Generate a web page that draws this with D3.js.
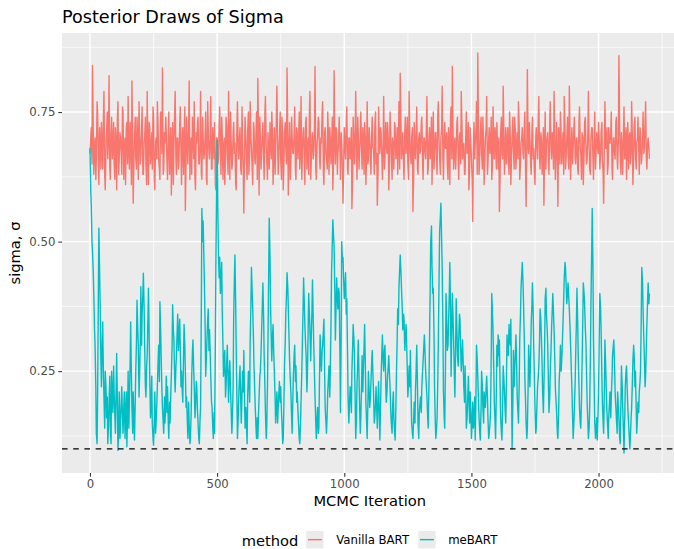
<!DOCTYPE html>
<html><head><meta charset="utf-8">
<script src="https://cdn.jsdelivr.net/npm/d3@7"></script>
<style>body{margin:0;background:#fff}svg{display:block;font-family:"DejaVu Sans",sans-serif}</style>
</head><body><svg id="c" width="674" height="549"></svg>
<script>
// ---- data: posterior sigma draws ----
// "A" arrays: draws at iterations 0,5,10,...,2200 ; "B" arrays: draws at iterations 3,8,13,...,2198
const stepA = 5, offsetB = 3;
const methods = ["Vanilla BART", "meBART"];
const methodColors = ["#F8766D", "#00BFC4"];
const vanillaA = [
0.67,0.72,0.84,0.63,0.70,0.66,0.75,0.61,0.69,0.73,0.64,0.79,0.60,0.71,0.66,0.82,0.62,0.74,0.68,0.65,
0.72,0.60,0.77,0.66,0.70,0.63,0.75,0.68,0.61,0.73,0.78,0.64,0.69,0.81,0.574,0.70,0.66,0.74,0.62,0.71,
0.67,0.76,0.63,0.70,0.65,0.79,0.61,0.72,0.68,0.64,0.74,0.60,0.70,0.77,0.66,0.62,0.73,0.835,0.64,0.69,
0.71,0.62,0.75,0.67,0.59,0.73,0.68,0.79,0.63,0.70,0.66,0.76,0.61,0.72,0.69,0.56,0.74,0.65,0.81,0.67,
0.63,0.71,0.77,0.60,0.69,0.74,0.65,0.79,0.62,0.70,0.67,0.75,0.61,0.72,0.66,0.78,0.64,0.69,0.73,0.60,
0.70,0.66,0.76,0.63,0.71,0.68,0.61,0.74,0.67,0.79,0.62,0.70,0.65,0.73,0.69,0.60,0.77,0.66,0.72,0.63,
0.69,0.555,0.74,0.66,0.71,0.63,0.77,0.68,0.61,0.72,0.65,0.75,0.815,0.59,0.70,0.67,0.73,0.62,0.78,0.66,
0.71,0.64,0.69,0.75,0.61,0.72,0.67,0.80,0.63,0.70,0.66,0.74,0.60,0.71,0.68,0.835,0.59,0.73,0.65,0.70,
0.67,0.76,0.62,0.71,0.69,0.64,0.78,0.66,0.72,0.61,0.74,0.68,0.63,0.79,0.65,0.71,0.67,0.838,0.62,0.70,
0.73,0.64,0.69,0.77,0.61,0.72,0.66,0.75,0.63,0.70,0.68,0.60,0.83,0.65,0.71,0.67,0.74,0.62,0.69,0.574,
0.72,0.66,0.76,0.63,0.70,0.68,0.564,0.74,0.65,0.79,0.62,0.71,0.67,0.75,0.64,0.69,0.73,0.61,0.77,0.66,
0.70,0.63,0.74,0.68,0.72,0.65,0.57,0.76,0.67,0.71,0.62,0.78,0.66,0.69,0.73,0.60,0.75,0.67,0.70,0.64,
0.72,0.68,0.63,0.77,0.825,0.66,0.71,0.62,0.74,0.69,0.65,0.79,0.67,0.70,0.558,0.73,0.66,0.76,0.63,0.71,
0.68,0.74,0.62,0.70,0.66,0.78,0.64,0.72,0.69,0.61,0.75,0.67,0.71,0.63,0.77,0.66,0.70,0.80,0.62,0.73,
0.68,0.65,0.72,0.61,0.76,0.838,0.64,0.70,0.67,0.74,0.62,0.71,0.79,0.66,0.69,0.63,0.75,0.68,0.60,0.72,
0.66,0.539,0.73,0.69,0.77,0.864,0.63,0.71,0.67,0.74,0.61,0.70,0.78,0.65,0.72,0.68,0.62,0.76,0.66,0.70,
0.73,0.64,0.558,0.71,0.67,0.80,0.63,0.72,0.69,0.66,0.75,0.61,0.70,0.68,0.74,0.64,0.71,0.77,0.62,0.69,
0.72,0.66,0.75,0.568,0.832,0.67,0.70,0.63,0.74,0.68,0.61,0.72,0.66,0.78,0.64,0.70,0.67,0.57,0.75,0.69,
0.71,0.63,0.77,0.66,0.70,0.79,0.62,0.73,0.568,0.69,0.75,0.65,0.71,0.78,0.64,0.70,0.67,0.80,0.62,0.72,
0.68,0.74,0.65,0.70,0.63,0.76,0.67,0.71,0.61,0.73,0.69,0.66,0.79,0.64,0.70,0.72,0.62,0.75,0.67,0.69,
0.73,0.64,0.71,0.66,0.574,0.77,0.68,0.63,0.72,0.69,0.75,0.62,0.70,0.66,0.74,0.64,0.859,0.67,0.71,0.63,
0.76,0.68,0.62,0.73,0.70,0.65,0.77,0.61,0.72,0.67,0.69,0.74,0.63,0.71,0.66,0.75,0.68,0.77,0.64,0.70,
0.66];
const vanillaB = [
0.70,0.65,0.71,0.68,0.62,0.77,0.66,0.72,0.64,0.69,0.74,0.63,0.68,0.75,0.70,0.64,0.71,0.66,0.73,0.62,
0.69,0.74,0.63,0.71,0.67,0.76,0.62,0.70,0.72,0.65,0.68,0.73,0.61,0.69,0.66,0.74,0.64,0.70,0.77,0.65,
0.72,0.63,0.69,0.74,0.61,0.68,0.73,0.65,0.71,0.76,0.62,0.69,0.66,0.72,0.64,0.75,0.67,0.63,0.71,0.74,
0.65,0.70,0.63,0.72,0.68,0.61,0.75,0.66,0.70,0.64,0.73,0.67,0.70,0.63,0.76,0.66,0.68,0.72,0.62,0.70,
0.74,0.66,0.62,0.71,0.73,0.65,0.69,0.63,0.74,0.66,0.71,0.62,0.77,0.67,0.70,0.64,0.72,0.66,0.61,0.70,
0.65,0.72,0.68,0.74,0.62,0.70,0.66,0.72,0.63,0.69,0.75,0.64,0.71,0.67,0.61,0.73,0.68,0.70,0.64,0.76,
0.63,0.68,0.70,0.62,0.75,0.67,0.70,0.64,0.73,0.66,0.71,0.62,0.70,0.74,0.64,0.71,0.66,0.75,0.68,0.62,
0.67,0.73,0.66,0.70,0.68,0.63,0.74,0.69,0.67,0.75,0.62,0.70,0.66,0.73,0.65,0.70,0.68,0.62,0.74,0.67,
0.71,0.64,0.72,0.66,0.75,0.68,0.62,0.71,0.67,0.73,0.64,0.70,0.75,0.62,0.70,0.66,0.72,0.64,0.69,0.74,
0.66,0.70,0.75,0.63,0.71,0.67,0.64,0.70,0.72,0.65,0.74,0.66,0.69,0.72,0.63,0.70,0.68,0.71,0.64,0.66,
0.68,0.73,0.64,0.70,0.66,0.72,0.62,0.69,0.71,0.66,0.74,0.64,0.70,0.68,0.72,0.63,0.70,0.67,0.65,0.72,
0.66,0.71,0.68,0.63,0.75,0.67,0.64,0.70,0.72,0.66,0.69,0.64,0.73,0.67,0.70,0.65,0.71,0.62,0.68,0.73,
0.66,0.72,0.69,0.64,0.73,0.68,0.65,0.71,0.67,0.74,0.62,0.70,0.65,0.72,0.63,0.69,0.71,0.64,0.70,0.67,
0.73,0.65,0.70,0.67,0.72,0.63,0.70,0.66,0.74,0.68,0.64,0.71,0.66,0.75,0.69,0.63,0.72,0.66,0.70,0.68,
0.71,0.62,0.69,0.74,0.66,0.70,0.68,0.64,0.73,0.66,0.70,0.65,0.72,0.68,0.63,0.71,0.67,0.73,0.64,0.69,
0.62,0.68,0.66,0.72,0.63,0.70,0.67,0.74,0.64,0.69,0.66,0.72,0.63,0.70,0.67,0.74,0.65,0.69,0.72,0.64,
0.68,0.70,0.63,0.74,0.66,0.70,0.68,0.65,0.72,0.63,0.70,0.67,0.74,0.64,0.71,0.68,0.66,0.72,0.65,0.70,
0.67,0.72,0.64,0.70,0.68,0.73,0.65,0.71,0.66,0.63,0.70,0.68,0.74,0.66,0.71,0.63,0.72,0.68,0.64,0.70,
0.66,0.73,0.68,0.71,0.64,0.70,0.67,0.66,0.72,0.65,0.70,0.68,0.63,0.72,0.67,0.74,0.64,0.70,0.68,0.65,
0.72,0.66,0.70,0.64,0.73,0.68,0.62,0.70,0.67,0.74,0.65,0.71,0.68,0.63,0.72,0.66,0.70,0.64,0.71,0.67,
0.69,0.67,0.73,0.63,0.70,0.68,0.72,0.65,0.69,0.71,0.64,0.70,0.67,0.73,0.66,0.70,0.72,0.63,0.68,0.71,
0.66,0.72,0.69,0.64,0.71,0.67,0.70,0.66,0.74,0.64,0.70,0.68,0.72,0.65,0.70,0.67,0.73,0.66,0.69,0.68];
const mebartA = [
0.68,0.57,0.48,0.40,0.30,0.13,0.20,0.526,0.38,0.22,0.345,0.20,0.25,0.16,0.11,0.19,0.14,0.25,0.17,0.21,
0.13,0.284,0.097,0.21,0.15,0.22,0.13,0.21,0.17,0.104,0.25,0.19,0.345,0.18,0.21,0.117,0.25,0.387,0.30,0.24,
0.413,0.36,0.439,0.30,0.20,0.28,0.41,0.24,0.18,0.15,0.107,0.21,0.15,0.22,0.30,0.384,0.28,0.18,0.13,0.15,
0.24,0.22,0.12,0.15,0.24,0.378,0.31,0.21,0.28,0.36,0.32,0.30,0.25,0.19,0.34,0.25,0.20,0.12,0.15,0.12,
0.24,0.31,0.22,0.18,0.22,0.15,0.11,0.18,0.564,0.54,0.42,0.24,0.31,0.37,0.33,0.24,0.18,0.12,0.13,0.45,
0.696,0.48,0.47,0.42,0.37,0.24,0.29,0.22,0.30,0.19,0.27,0.18,0.16,0.35,0.474,0.30,0.12,0.20,0.26,0.15,
0.25,0.29,0.14,0.15,0.20,0.24,0.31,0.45,0.374,0.26,0.18,0.12,0.12,0.20,0.25,0.33,0.42,0.28,0.17,0.14,
0.31,0.545,0.38,0.27,0.34,0.25,0.15,0.21,0.18,0.23,0.22,0.15,0.12,0.26,0.36,0.44,0.37,0.27,0.21,0.13,
0.245,0.30,0.26,0.21,0.15,0.11,0.19,0.30,0.43,0.34,0.28,0.24,0.40,0.33,0.31,0.426,0.30,0.20,0.12,0.18,
0.14,0.32,0.25,0.30,0.35,0.18,0.13,0.21,0.26,0.25,0.44,0.542,0.49,0.31,0.43,0.37,0.40,0.17,0.50,0.47,
0.39,0.44,0.39,0.20,0.18,0.21,0.25,0.34,0.28,0.12,0.22,0.31,0.19,0.16,0.28,0.25,0.34,0.19,0.12,0.25,
0.18,0.23,0.29,0.21,0.16,0.22,0.14,0.23,0.117,0.24,0.32,0.25,0.30,0.19,0.24,0.28,0.22,0.15,0.18,0.16,
0.117,0.24,0.37,0.41,0.474,0.41,0.33,0.35,0.31,0.31,0.20,0.26,0.29,0.15,0.12,0.19,0.21,0.30,0.15,0.17,
0.20,0.22,0.27,0.32,0.25,0.20,0.14,0.30,0.50,0.45,0.41,0.22,0.12,0.16,0.31,0.52,0.574,0.45,0.21,0.14,
0.40,0.29,0.34,0.46,0.24,0.40,0.31,0.20,0.39,0.28,0.31,0.35,0.25,0.31,0.22,0.26,0.14,0.19,0.20,0.21,
0.12,0.19,0.16,0.117,0.30,0.24,0.16,0.117,0.25,0.18,0.21,0.18,0.24,0.16,0.13,0.17,0.40,0.33,0.19,0.12,
0.30,0.32,0.31,0.16,0.117,0.26,0.21,0.15,0.32,0.28,0.31,0.35,0.10,0.29,0.25,0.32,0.20,0.15,0.31,0.41,
0.46,0.38,0.24,0.15,0.14,0.30,0.22,0.34,0.42,0.30,0.18,0.14,0.22,0.26,0.37,0.32,0.21,0.22,0.39,0.36,
0.30,0.17,0.25,0.33,0.40,0.33,0.22,0.17,0.12,0.23,0.30,0.27,0.34,0.43,0.45,0.38,0.42,0.37,0.30,0.22,
0.12,0.18,0.28,0.41,0.28,0.18,0.14,0.26,0.42,0.38,0.31,0.19,0.12,0.18,0.38,0.564,0.31,0.15,0.14,0.117,
0.21,0.40,0.33,0.19,0.13,0.31,0.22,0.15,0.16,0.21,0.20,0.28,0.31,0.21,0.16,0.21,0.16,0.11,0.26,0.18,
0.092,0.22,0.26,0.18,0.13,0.12,0.18,0.27,0.28,0.25,0.13,0.19,0.21,0.25,0.45,0.37,0.28,0.24,0.34,0.42,
0.40];
const mebartB = [
0.60,0.50,0.44,0.33,0.22,0.11,0.40,0.44,0.27,0.30,0.24,0.14,0.22,0.20,0.15,0.24,0.11,0.20,0.26,0.16,
0.22,0.18,0.14,0.12,0.19,0.16,0.18,0.12,0.21,0.17,0.14,0.27,0.24,0.13,0.16,0.19,0.31,0.33,0.20,0.31,
0.30,0.40,0.37,0.22,0.26,0.35,0.31,0.16,0.24,0.12,0.16,0.13,0.19,0.27,0.23,0.33,0.21,0.15,0.20,0.19,
0.17,0.15,0.19,0.21,0.30,0.33,0.24,0.26,0.33,0.29,0.35,0.22,0.21,0.28,0.30,0.18,0.15,0.19,0.11,0.17,
0.29,0.25,0.16,0.23,0.17,0.12,0.16,0.38,0.50,0.47,0.33,0.28,0.35,0.29,0.28,0.19,0.14,0.17,0.30,0.60,
0.55,0.43,0.40,0.46,0.30,0.27,0.20,0.27,0.23,0.25,0.21,0.13,0.22,0.43,0.38,0.19,0.16,0.24,0.19,0.21,
0.21,0.19,0.18,0.11,0.25,0.19,0.38,0.40,0.31,0.21,0.14,0.16,0.17,0.24,0.29,0.38,0.35,0.22,0.12,0.22,
0.45,0.47,0.31,0.32,0.28,0.20,0.18,0.15,0.21,0.19,0.17,0.11,0.20,0.31,0.40,0.41,0.31,0.23,0.16,0.20,
0.28,0.23,0.19,0.17,0.12,0.15,0.25,0.37,0.38,0.30,0.21,0.33,0.36,0.27,0.37,0.35,0.24,0.15,0.16,0.13,
0.25,0.27,0.29,0.33,0.24,0.15,0.17,0.24,0.20,0.35,0.50,0.51,0.40,0.38,0.39,0.41,0.28,0.33,0.46,0.42,
0.41,0.36,0.28,0.15,0.22,0.17,0.30,0.31,0.19,0.16,0.27,0.24,0.13,0.22,0.21,0.30,0.26,0.15,0.19,0.21,
0.20,0.27,0.24,0.15,0.19,0.17,0.20,0.16,0.19,0.29,0.27,0.29,0.23,0.21,0.26,0.24,0.17,0.13,0.21,0.13,
0.18,0.31,0.34,0.45,0.44,0.37,0.36,0.29,0.34,0.25,0.23,0.22,0.20,0.13,0.16,0.15,0.26,0.22,0.12,0.19,
0.17,0.25,0.30,0.28,0.22,0.16,0.22,0.42,0.53,0.40,0.32,0.15,0.14,0.24,0.44,0.55,0.50,0.33,0.16,0.26,
0.35,0.30,0.40,0.37,0.33,0.35,0.24,0.30,0.33,0.26,0.36,0.29,0.28,0.26,0.19,0.20,0.16,0.24,0.15,0.17,
0.15,0.14,0.20,0.21,0.27,0.19,0.13,0.18,0.22,0.15,0.19,0.22,0.20,0.12,0.15,0.28,0.36,0.25,0.15,0.21,
0.26,0.28,0.22,0.13,0.19,0.23,0.17,0.24,0.29,0.34,0.30,0.21,0.19,0.22,0.29,0.26,0.17,0.23,0.36,0.44,
0.42,0.31,0.19,0.12,0.22,0.26,0.28,0.38,0.36,0.23,0.13,0.19,0.24,0.31,0.35,0.26,0.17,0.30,0.41,0.33,
0.22,0.20,0.29,0.37,0.36,0.27,0.19,0.13,0.17,0.26,0.25,0.31,0.39,0.46,0.41,0.40,0.39,0.33,0.25,0.16,
0.15,0.23,0.35,0.34,0.22,0.15,0.20,0.35,0.40,0.33,0.24,0.15,0.14,0.28,0.48,0.45,0.22,0.12,0.16,0.17,
0.33,0.37,0.24,0.15,0.22,0.26,0.17,0.12,0.19,0.16,0.24,0.30,0.26,0.18,0.13,0.18,0.12,0.19,0.22,0.13,
0.16,0.25,0.21,0.15,0.10,0.16,0.23,0.30,0.22,0.18,0.16,0.17,0.23,0.36,0.42,0.31,0.22,0.30,0.39,0.38];
const xTicks = [0, 500, 1000, 1500, 2000];
const xMinorTicks = [250, 750, 1250, 1750, 2250];
const yTicks = [0.25, 0.50, 0.75];
const yMinorTicks = [0.125, 0.375, 0.625, 0.875];
const trueSigma = 0.1;
const titleText = "Posterior Draws of Sigma";
const xTitle = "MCMC Iteration";
const yTitle = "sigma, \u03c3";
const legendTitle = "method";

// ---- build series ----
function merge(a, b) {
  const pts = a.map((v, i) => ({it: i * stepA, v}))
    .concat(b.map((v, i) => ({it: i * stepA + offsetB, v})));
  return pts.sort((p, q) => p.it - q.it);
}
const seriesData = [[vanillaA, vanillaB], [mebartA, mebartB]].map(([a, b], k) => ({
  method: methods[k], color: methodColors[k], pts: merge(a, b)
}));

// ---- layout ----
const svg = d3.select("#c");
const P = {left: 62, top: 33, bottom: 473, right: 677.4};
const allIt = seriesData.flatMap(s => s.pts.map(p => p.it));
const allV = seriesData.flatMap(s => s.pts.map(p => p.v)).concat([trueSigma]);
const expand = ([a, b]) => { const d = (b - a) * 0.05; return [a - d, b + d]; };
const x = d3.scaleLinear().domain(expand(d3.extent(allIt))).range([P.left, P.right]);
const y = d3.scaleLinear().domain(expand(d3.extent(allV))).range([P.bottom, P.top]);

// panel + grid
svg.append("rect").attr("x", P.left).attr("y", P.top)
  .attr("width", P.right - P.left).attr("height", P.bottom - P.top).attr("fill", "#EBEBEB");
const grid = svg.append("g");
const hLines = (vals, w) => grid.append("g").selectAll("line").data(vals).join("line")
  .attr("x1", P.left).attr("x2", P.right).attr("y1", d => y(d)).attr("y2", d => y(d))
  .attr("stroke", "#fff").attr("stroke-width", w);
const vLines = (vals, w) => grid.append("g").selectAll("line").data(vals).join("line")
  .attr("y1", P.top).attr("y2", P.bottom).attr("x1", d => x(d)).attr("x2", d => x(d))
  .attr("stroke", "#fff").attr("stroke-width", w);
hLines(yMinorTicks, 0.71); vLines(xMinorTicks, 0.71);
hLines(yTicks, 1.42); vLines(xTicks, 1.42);

// traces
const line = d3.line().x(d => x(d.it)).y(d => y(d.v));
svg.append("g").selectAll("path").data(seriesData).join("path")
  .attr("d", d => line(d.pts)).attr("fill", "none")
  .attr("stroke", d => d.color).attr("stroke-width", 1.4).attr("stroke-linejoin", "round");

// reference line
svg.append("line").attr("x1", P.left).attr("x2", P.right)
  .attr("y1", y(trueSigma)).attr("y2", y(trueSigma))
  .attr("stroke", "#000").attr("stroke-width", 1.42).attr("stroke-dasharray", "5.6,5.6");

// axes
const xAxis = d3.axisBottom(x).tickValues(xTicks).tickSize(3.67).tickPadding(2.93).tickFormat(d3.format("d"));
const yAxis = d3.axisLeft(y).tickValues(yTicks).tickSize(3.67).tickPadding(2.93).tickFormat(d3.format(".2f"));
const gx = svg.append("g").attr("transform", `translate(0,${P.bottom})`).call(xAxis);
const gy = svg.append("g").attr("transform", `translate(${P.left},0)`).call(yAxis);
[gx, gy].forEach(g => {
  g.select(".domain").remove();
  g.selectAll(".tick line").attr("stroke", "#333333").attr("stroke-width", 1.07);
  g.selectAll(".tick text").attr("fill", "#4D4D4D").style("font-size", "11.73px")
    .style("font-family", "DejaVu Sans");
});

// titles
svg.append("text").attr("x", P.left).attr("y", 23).text(titleText)
  .style("font-size", "17.6px").attr("fill", "#000");
svg.append("text").attr("x", (P.left + P.right) / 2).attr("y", 505.5).attr("text-anchor", "middle")
  .text(xTitle).style("font-size", "14.67px");
svg.append("text").attr("transform", `translate(19.5,${(P.top + P.bottom) / 2}) rotate(-90)`)
  .attr("text-anchor", "middle").text(yTitle).style("font-size", "14.67px");

// legend
const lg = svg.append("g");
const keyY = 531, keyS = 17.28;
lg.append("text").attr("x", 241.7).attr("y", keyY + keyS / 2 + 6).text(legendTitle).style("font-size", "14.67px");
const keyX = [306.3, 418.3];
methods.forEach((m, k) => {
  lg.append("rect").attr("x", keyX[k]).attr("y", keyY).attr("width", keyS).attr("height", keyS).attr("fill", "#EBEBEB");
  lg.append("line").attr("x1", keyX[k] + 1.7).attr("x2", keyX[k] + keyS - 1.7)
    .attr("y1", keyY + keyS / 2).attr("y2", keyY + keyS / 2)
    .attr("stroke", methodColors[k]).attr("stroke-width", 1.42);
  lg.append("text").attr("x", keyX[k] + keyS + 12.6).attr("y", keyY + keyS / 2 + 4.5)
    .text(m).style("font-size", "11.73px").attr("fill", "#000");
});
</script></body></html>
